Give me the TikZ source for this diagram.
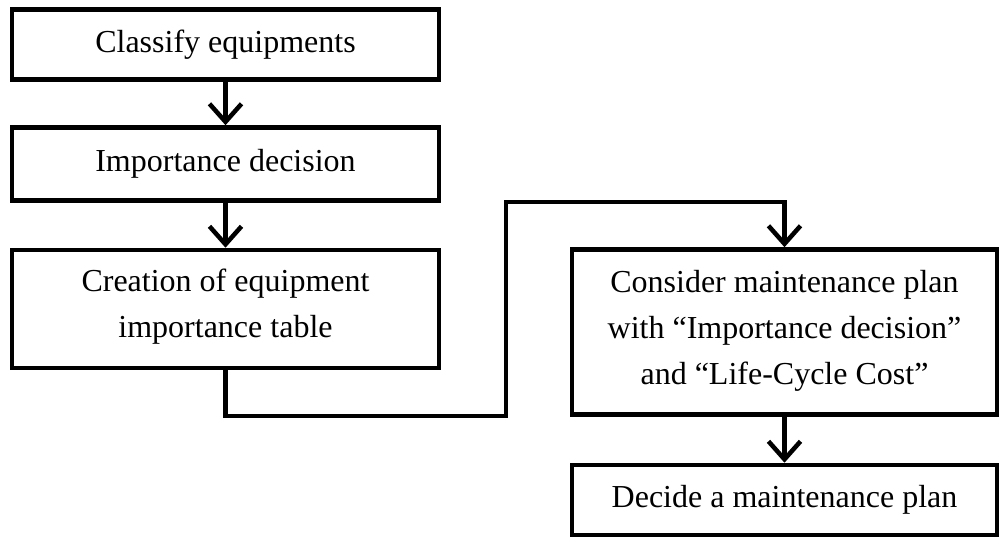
\documentclass[tikz,border=0pt]{standalone}
\usepackage{fontspec}
\setmainfont{Liberation Serif}
\usetikzlibrary{arrows.meta}
\begin{document}
\begin{tikzpicture}[x=0.75pt,y=-0.75pt,
  box/.style={draw=black, line width=3.4pt, fill=white, inner sep=0pt},
  txt/.style={align=center, inner sep=0pt, font=\fontsize{24}{34.5}\selectfont},
  flow/.style={line width=3.4pt, -{Straight Barb[length=13.5pt,width=24pt,line width=3.4pt]}},
  link/.style={line width=3.4pt}]
  \useasboundingbox (0,0) rectangle (1001,539);

  % left column
  \node[box, minimum width=320.25pt, minimum height=52.5pt] (b1) at (225.5,44.5) {};
  \node[txt] (t1) at (b1.center) {Classify equipments};
  \node[box, minimum width=320.25pt, minimum height=54.75pt] (b2) at (225.5,164) {};
  \node[txt] (t2) at (b2.center) {Importance decision};
  \node[box, minimum width=320.25pt, minimum height=88.5pt] (b3) at (225.5,309) {};
  \node[txt, anchor=north] (t3) at (225.5,269) {Creation of equipment\\importance table};

  % right column
  \node[box, minimum width=318.75pt, minimum height=123.75pt] (b4) at (784.5,332) {};
  \node[txt, anchor=north] (t4) at (784.5,270) {Consider maintenance plan\\with “Importance decision”\\and “Life-Cycle Cost”};
  \node[box, minimum width=318.75pt, minimum height=52.5pt] (b5) at (784.5,500) {};
  \node[txt] (t5) at (b5.center) {Decide a maintenance plan};

  % connectors
  \coordinate (c1) at (225.5,416);
  \coordinate (c2) at (506,416);
  \coordinate (c3) at (506,202);
  \coordinate (c4) at (784.5,202);
  \draw[flow] (b1.south) -- (b2.north);
  \draw[flow] (b2.south) -- (b3.north);
  \draw[link, line join=miter] (b3.south) -- (c1) -- (c2) -- (c3) -- (c4) -- ++(0,20);
  \draw[flow] (c4) -- (b4.north);
  \draw[flow] (b4.south) -- (b5.north);
\end{tikzpicture}
\end{document}
